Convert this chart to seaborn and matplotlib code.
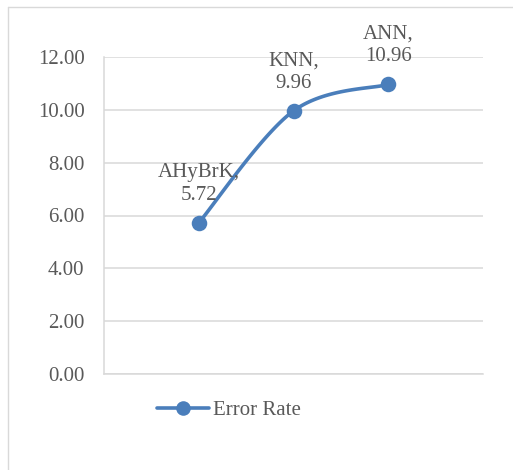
import numpy as np
import pandas as pd
import matplotlib
matplotlib.use("Agg")
import matplotlib.pyplot as plt
from matplotlib.lines import Line2D
import seaborn as sns

categories = ["AHyBrK", "KNN", "ANN"]
error_rate = [5.72, 9.96, 10.96]
series_name = "Error Rate"
y_ticks = [0, 2, 4, 6, 8, 10, 12]

sns.set_theme(style="white")
plt.rcParams["font.family"] = ["Liberation Serif", "DejaVu Serif"]

BLUE = "#4A7EBB"
TEXT = "#595959"
GRID = "#D9D9D9"

fig = plt.figure(figsize=(5.13, 4.70), dpi=100)
fig.patch.set_facecolor("white")
# chart area frame (top and left edges only visible)
fx, fy = 7.5 / 513, 1 - 6.5 / 470
fig.add_artist(Line2D([fx, 1.0], [fy, fy], transform=fig.transFigure,
                      color="#D9D9D9", linewidth=1.0))
fig.add_artist(Line2D([fx, fx], [0.0, fy], transform=fig.transFigure,
                      color="#D9D9D9", linewidth=1.0))

ax = fig.add_axes([104 / 513, 1 - 374 / 470, 379 / 513, 317 / 470])

pos = np.arange(1, len(categories) + 1, dtype=float)
vals = np.array(error_rate, dtype=float)

# Excel-style smoothed curve (cubic Bezier, Catmull-Rom control points)
P = np.column_stack([pos, vals])
Pext = np.vstack([P[0], P, P[-1]])
curve = []
t = np.linspace(0, 1, 60)
for i in range(len(P) - 1):
    p0, p3 = Pext[i + 1], Pext[i + 2]
    c1 = p0 + (Pext[i + 2] - Pext[i]) / 6.0
    c2 = p3 - (Pext[i + 3] - Pext[i + 1]) / 6.0
    seg = ((1 - t) ** 3)[:, None] * p0 + (3 * (1 - t) ** 2 * t)[:, None] * c1 \
        + (3 * (1 - t) * t ** 2)[:, None] * c2 + (t ** 3)[:, None] * p3
    curve.append(seg)
curve = np.vstack(curve)
smooth = pd.DataFrame({"x": curve[:, 0], "y": curve[:, 1]})
pts = pd.DataFrame({"x": pos, "y": vals, "cat": categories})

sns.lineplot(data=smooth, x="x", y="y", ax=ax, color=BLUE, linewidth=2.6,
             sort=False, estimator=None)
sns.scatterplot(data=pts, x="x", y="y", ax=ax, color=BLUE, s=125,
                edgecolor=BLUE, linewidth=0, zorder=5)

for xv, yv, c in zip(pos, vals, categories):
    ax.annotate(f"{c},\n{yv:.2f}", (xv, yv), xytext=(0, 13),
                textcoords="offset points", ha="center", va="bottom",
                fontsize=15, color=TEXT, linespacing=1.25,
                annotation_clip=False)

ax.set_xlim(0, len(categories) + 1)
ax.set_ylim(0, 12)
ax.set_yticks(y_ticks)
ax.set_yticklabels([f"{v:.2f}" for v in y_ticks], fontsize=15, color=TEXT)
ax.set_xticks([])
ax.set_xlabel("")
ax.set_ylabel("")
ax.tick_params(axis="y", length=0, pad=14)
ax.yaxis.grid(True, color=GRID, linewidth=1.1)
ax.set_axisbelow(True)
for s in ["top", "right"]:
    ax.spines[s].set_visible(False)
for s in ["left", "bottom"]:
    ax.spines[s].set_color(GRID)
    ax.spines[s].set_linewidth(1.1)

handle = Line2D([], [], color=BLUE, linewidth=2.6, marker="o",
                markersize=10.5, markeredgewidth=0)
fig.legend([handle], [series_name], loc="center left",
           bbox_to_anchor=(157 / 513, 1 - 410 / 470), frameon=False,
           fontsize=15, handlelength=2.5, handletextpad=0.2, borderpad=0,
           borderaxespad=0, labelcolor=TEXT)

fig.savefig("out.png", dpi=100, facecolor="white")
